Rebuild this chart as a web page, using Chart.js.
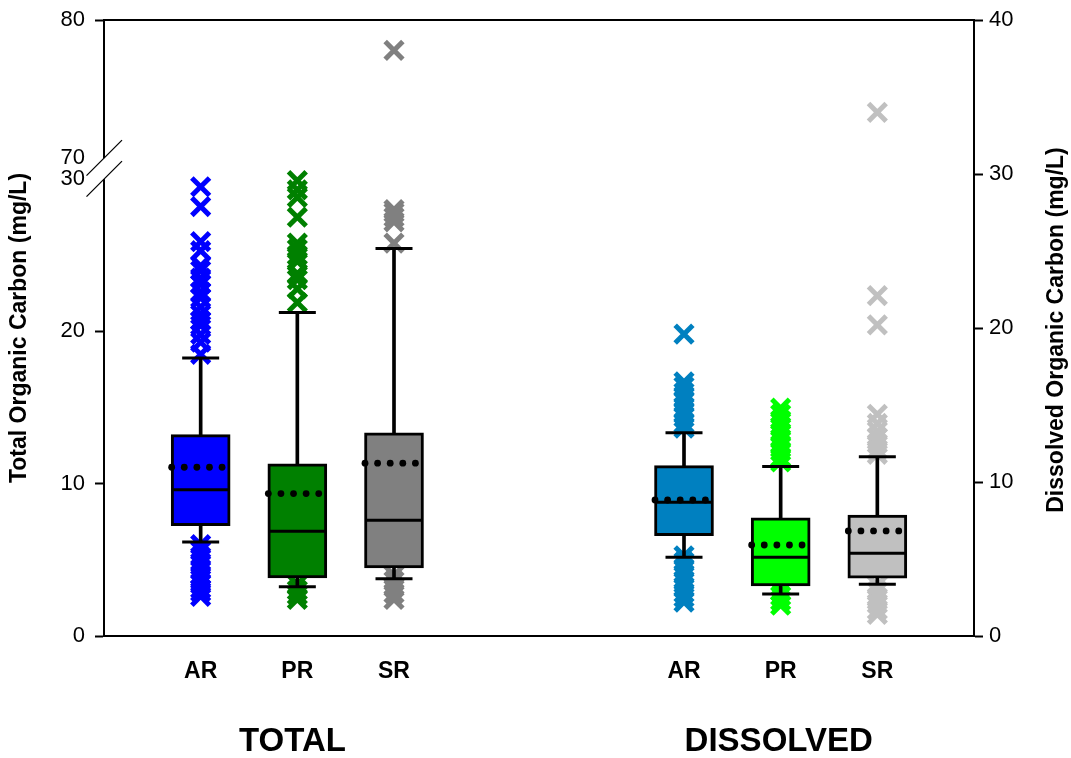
<!DOCTYPE html>
<html>
<head>
<meta charset="utf-8">
<script src="https://cdn.jsdelivr.net/npm/chart.js@4/dist/chart.umd.min.js"></script>
<style>
html,body{margin:0;padding:0;background:#fff;}
#wrap{width:1071px;height:758px;position:relative;}
</style>
</head>
<body>
<div id="wrap"><canvas id="c"></canvas></div>
<script>
// ---------- DATA ----------
const categories = ['AR', 'PR', 'SR'];
const groupLabels = ['TOTAL', 'DISSOLVED'];
const leftTickValues = [0, 10, 20, 30, 70, 80];
const rightTickValues = [0, 10, 20, 30, 40];
const leftTitle = 'Total Organic Carbon (mg/L)';
const rightTitle = 'Dissolved Organic Carbon (mg/L)';

// Total organic carbon (mg/L)
const totalQ1 = [7.25, 3.82, 4.47];
const totalMedian = [9.6, 6.88, 7.6];
const totalQ3 = [13.22, 11.31, 13.34];
const totalMean = [11.08, 9.35, 11.35];
const totalWhiskerLow = [6.18, 3.23, 3.76];
const totalWhiskerHigh = [18.25, 21.24, 25.45];
const totalOutliersAR = [29.5, 28.2, 25.9, 25.3, 24.3, 24.0, 23.5, 23.1, 22.6, 22.2, 21.6, 21.1, 20.7, 20.4, 19.8, 19.3, 18.5,
                         6.0, 5.6, 5.2, 4.8, 4.4, 4.0, 3.7, 3.4, 3.1, 2.9, 2.6];
const totalOutliersPR = [29.9, 29.3, 28.8, 27.5, 25.8, 25.4, 25.0, 24.6, 23.8, 23.4, 22.8, 21.9,
                         3.4, 3.0, 2.7, 2.4];
const totalOutliersSR = [77.8, 28.0, 27.8, 27.5, 27.2, 25.8,
                         4.0, 3.6, 3.2, 2.8, 2.4];

// Dissolved organic carbon (mg/L)
const dissolvedQ1 = [6.51, 3.25, 3.75];
const dissolvedMedian = [8.68, 5.11, 5.37];
const dissolvedQ3 = [11.06, 7.68, 7.86];
const dissolvedMean = [8.83, 5.91, 6.82];
const dissolvedWhiskerLow = [5.11, 2.73, 3.36];
const dissolvedWhiskerHigh = [13.2, 11.0, 11.64];
const dissolvedOutliersAR = [19.6, 16.5, 16.2, 15.8, 15.5, 15.2, 14.8, 14.5, 14.2, 13.8, 13.5,
                             5.2, 4.8, 4.4, 4.0, 3.6, 3.2, 2.8, 2.5, 2.2];
const dissolvedOutliersPR = [14.8, 14.4, 14.0, 13.6, 13.2, 12.8, 12.4, 12.0, 11.6, 11.3,
                             2.9, 2.6, 2.3, 2.0];
const dissolvedOutliersSR = [34.0, 22.1, 20.2, 14.4, 13.8, 13.3, 12.9, 12.5, 12.1, 11.8,
                             3.3, 2.9, 2.5, 2.1, 1.7, 1.4];

// ---------- STYLE / LAYOUT ----------
const totalColors = ['#0000ff', '#008000', '#808080'];
const dissolvedColors = ['#0080c0', '#00ff00', '#c0c0c0'];
const totalPos = [1, 2, 3];
const dissolvedPos = [6, 7, 8];
const groupPos = [1.95, 6.98];
const FONT = '"Liberation Sans", Arial, Helvetica, sans-serif';
Chart.defaults.font.family = FONT;
Chart.defaults.color = '#000';

// broken left axis: 0-30 linear, then 70-80 compressed
const BREAK_LOW = 30, BREAK_HIGH = 70, BREAK_START = 31.38, UPPER_SCALE = 0.907, LEFT_MAX = 40.45;
function toLeft(v) { return v <= BREAK_LOW ? v : BREAK_START + (v - BREAK_HIGH) * UPPER_SCALE; }
function ident(v) { return v; }

const X_MAX = 9, PLOT_W = 870;
const UNIT = X_MAX / PLOT_W;          // x units per pixel
const BOX_W = 59, CAP_R = 18.5, DOT_START = -29, DOT_STEP = 12.6;

function buildBox(pos, q1, med, q3, mean, wl, wh, outliers, colors, axis, tf) {
  const ds = [];
  outliers.forEach((arr, i) => ds.push({
    type: 'scatter', yAxisID: axis, order: 6,
    pointStyle: 'crossRot', pointRadius: 12.5, pointBorderWidth: 5,
    pointBorderColor: colors[i], pointBackgroundColor: colors[i],
    data: arr.map(v => ({ x: pos[i], y: tf(v) }))
  }));
  ds.push({
    type: 'bar', yAxisID: axis, order: 5, grouped: false, barThickness: 3,
    backgroundColor: '#000', borderWidth: 0,
    data: pos.map((p, i) => ({ x: p, y: [tf(wl[i]), tf(wh[i])] }))
  });
  ds.push({
    type: 'bar', yAxisID: axis, order: 4, grouped: false, barThickness: BOX_W,
    backgroundColor: colors, borderColor: '#000', borderWidth: 3, borderSkipped: false,
    data: pos.map((p, i) => ({ x: p, y: [tf(q1[i]), tf(q3[i])] }))
  });
  ds.push({
    type: 'scatter', yAxisID: axis, order: 3,
    pointStyle: 'line', pointRadius: CAP_R, pointBorderWidth: 3, pointBorderColor: '#000',
    data: pos.flatMap((p, i) => [{ x: p, y: tf(wl[i]) }, { x: p, y: tf(wh[i]) }])
  });
  ds.push({
    type: 'scatter', yAxisID: axis, order: 3,
    pointStyle: 'line', pointRadius: BOX_W / 2 - 1, pointBorderWidth: 3, pointBorderColor: '#000',
    data: pos.map((p, i) => ({ x: p, y: tf(med[i]) }))
  });
  ds.push({
    type: 'scatter', yAxisID: axis, order: 2,
    pointStyle: 'circle', pointRadius: 3.4, pointBorderWidth: 0, pointBackgroundColor: '#000',
    data: pos.flatMap((p, i) => [0, 1, 2, 3, 4].map(k => ({ x: p + (DOT_START + k * DOT_STEP) * UNIT, y: tf(mean[i]) })))
  });
  return ds;
}

const datasets = [
  ...buildBox(totalPos, totalQ1, totalMedian, totalQ3, totalMean, totalWhiskerLow, totalWhiskerHigh,
              [totalOutliersAR, totalOutliersPR, totalOutliersSR], totalColors, 'y', toLeft),
  ...buildBox(dissolvedPos, dissolvedQ1, dissolvedMedian, dissolvedQ3, dissolvedMean, dissolvedWhiskerLow, dissolvedWhiskerHigh,
              [dissolvedOutliersAR, dissolvedOutliersPR, dissolvedOutliersSR], dissolvedColors, 'y2', ident)
];

const xTickPos = [...totalPos, ...dissolvedPos];
const xTickLabels = [...categories, ...categories];

const decor = {
  id: 'decor',
  afterDraw(chart) {
    const { ctx, chartArea: a, scales } = chart;
    const y = scales.y;
    ctx.save();
    ctx.strokeStyle = '#000';
    ctx.lineWidth = 2;
    ctx.beginPath(); ctx.moveTo(a.left - 1, a.top); ctx.lineTo(a.right + 1, a.top); ctx.stroke();
    const y30 = y.getPixelForValue(toLeft(BREAK_LOW));
    const y70 = y.getPixelForValue(toLeft(BREAK_HIGH));
    ctx.fillStyle = '#fff';
    ctx.fillRect(a.left - 3, y70, 6, y30 - y70);
    ctx.lineWidth = 1.3;
    [y70, y30].forEach(py => {
      ctx.beginPath(); ctx.moveTo(a.left - 17.5, py + 17.5); ctx.lineTo(a.left + 18, py - 18); ctx.stroke();
    });
    ctx.translate(1057, (a.top + a.bottom) / 2 + 2);
    ctx.rotate(-Math.PI / 2);
    ctx.font = 'bold 23px ' + FONT;
    ctx.fillStyle = '#000';
    ctx.textAlign = 'center';
    ctx.textBaseline = 'middle';
    ctx.fillText(rightTitle, 0, 0);
    ctx.restore();
  }
};

function fitVertical(width) {
  return s => { s.width = width; s.paddingTop = 0; s.paddingBottom = 0; };
}

new Chart(document.getElementById('c'), {
  type: 'bar',
  data: { datasets },
  plugins: [decor],
  options: {
    responsive: true,
    maintainAspectRatio: false,
    animation: false,
    events: [],
    layout: { autoPadding: false, padding: { top: 20, left: 0, right: 0, bottom: 0 } },
    plugins: { legend: { display: false }, tooltip: { enabled: false } },
    scales: {
      x: {
        type: 'linear', position: 'bottom', min: 0, max: X_MAX, offset: false,
        afterBuildTicks: s => { s.ticks = xTickPos.map(v => ({ value: v })); },
        ticks: { callback: (v, i) => xTickLabels[i], font: { size: 23, weight: 'bold' }, color: '#000', padding: 14, autoSkip: false, maxRotation: 0 },
        grid: { display: false },
        border: { display: true, color: '#000', width: 2 },
        afterFit: s => { s.height = 60; s.paddingLeft = 0; s.paddingRight = 0; }
      },
      x2: {
        type: 'linear', position: 'bottom', min: 0, max: X_MAX, offset: false,
        afterBuildTicks: s => { s.ticks = groupPos.map(v => ({ value: v })); },
        ticks: { callback: (v, i) => groupLabels[i], font: { size: 33, weight: 'bold' }, color: '#000', padding: 18, autoSkip: false, maxRotation: 0 },
        grid: { display: false },
        border: { display: false },
        afterFit: s => { s.height = 62; s.paddingLeft = 0; s.paddingRight = 0; }
      },
      y: {
        type: 'linear', position: 'left', min: 0, max: LEFT_MAX,
        afterBuildTicks: s => { s.ticks = leftTickValues.map(v => ({ value: toLeft(v) })); },
        ticks: { callback: (v, i) => String(leftTickValues[i]), font: { size: 22 }, color: '#000', padding: 10, autoSkip: false },
        grid: { drawOnChartArea: false, tickLength: 9, tickWidth: 2,
                tickColor: c => (leftTickValues[c.index] === BREAK_LOW || leftTickValues[c.index] === BREAK_HIGH) ? 'rgba(0,0,0,0)' : '#000' },
        border: { color: '#000', width: 2 },
        title: { display: true, text: leftTitle, font: { size: 23, weight: 'bold' }, color: '#000', padding: { top: 6, bottom: 0 } },
        afterFit: fitVertical(104)
      },
      y2: {
        type: 'linear', position: 'right', min: 0, max: 40,
        afterBuildTicks: s => { s.ticks = rightTickValues.map(v => ({ value: v })); },
        ticks: { callback: (v, i) => String(rightTickValues[i]), font: { size: 22 }, color: '#000', padding: 6, autoSkip: false },
        grid: { drawOnChartArea: false, tickLength: 9, tickWidth: 2, tickColor: '#000' },
        border: { color: '#000', width: 2 },
        afterFit: fitVertical(97)
      }
    }
  }
});
</script>
</body>
</html>
